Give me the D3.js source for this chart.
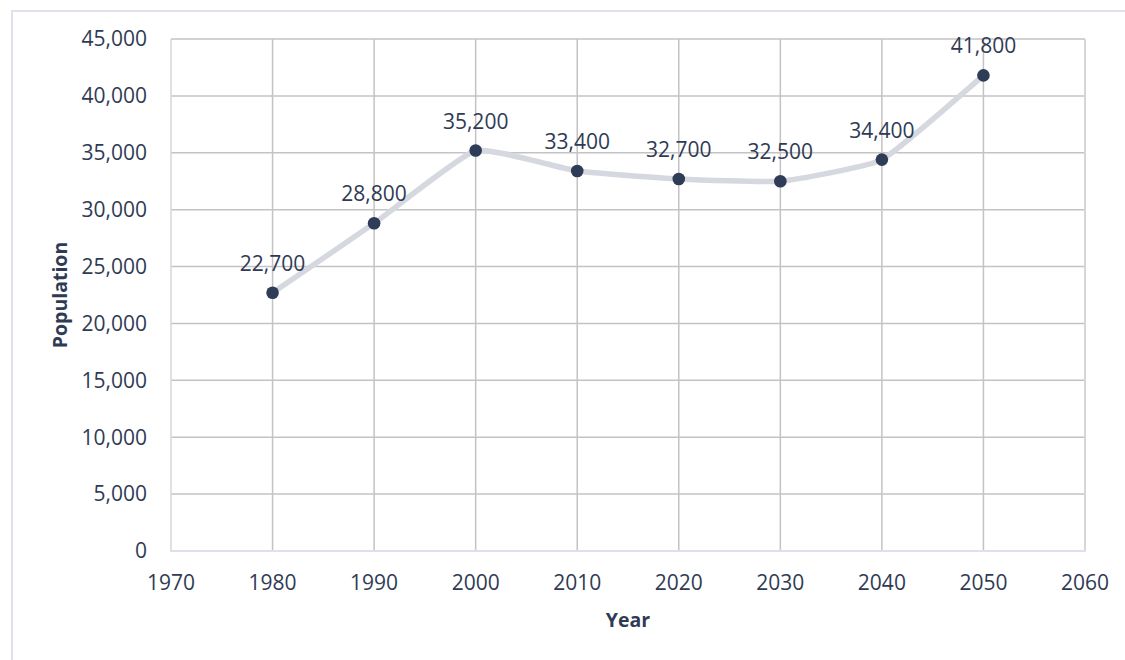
<!DOCTYPE html>
<html><head><meta charset="utf-8">
<script src="https://cdn.jsdelivr.net/npm/d3@7"></script>
<style>body{margin:0;background:#fff;} svg{display:block;}</style>
</head><body>
<svg id="c" width="1125" height="660"></svg>
<script>
const years = [1980, 1990, 2000, 2010, 2020, 2030, 2040, 2050];
const population = [22700, 28800, 35200, 33400, 32700, 32500, 34400, 41800];
const xTicks = [1970, 1980, 1990, 2000, 2010, 2020, 2030, 2040, 2050, 2060];
const yTicks = [0, 5000, 10000, 15000, 20000, 25000, 30000, 35000, 40000, 45000];

const svg = d3.select("#c");
const W = 1125, H = 660;
const m = {l: 171, r: 1085, t: 39, b: 551};
const textCol = "#2f3b55";
const font = "'Open Sans', sans-serif";

svg.append("path").attr("d", `M12,${H} L12,11 L${W},11`).attr("fill","none")
  .attr("stroke","#dfe2ec").attr("stroke-width",2);

const x = d3.scaleLinear().domain([1970, 2060]).range([m.l, m.r]);
const y = d3.scaleLinear().domain([0, 45000]).range([m.b, m.t]);

const g = svg.append("g");
g.selectAll("line.v").data(xTicks.slice(1, -1)).join("line")
  .attr("x1", d => x(d)).attr("x2", d => x(d)).attr("y1", m.t).attr("y2", m.b)
  .attr("stroke", "#c3c3c3").attr("stroke-width", 1.5);
g.selectAll("line.h").data(yTicks.slice(1)).join("line")
  .attr("x1", m.l).attr("x2", m.r).attr("y1", d => y(d)).attr("y2", d => y(d))
  .attr("stroke", "#c3c3c3").attr("stroke-width", 1.5);
g.append("line").attr("x1", m.l).attr("x2", m.l).attr("y1", m.t).attr("y2", m.b)
  .attr("stroke", "#d6d6d6").attr("stroke-width", 1.5);
g.append("line").attr("x1", m.r).attr("x2", m.r).attr("y1", m.t).attr("y2", m.b)
  .attr("stroke", "#d6d6d6").attr("stroke-width", 2);
g.append("line").attr("x1", m.l - 1).attr("x2", m.r + 1).attr("y1", m.b).attr("y2", m.b)
  .attr("stroke", "#dde1ea").attr("stroke-width", 2);

const fmt = d3.format(",");
const fs = "21px";

svg.append("g").selectAll("text").data(yTicks).join("text")
  .attr("x", 147).attr("y", d => y(d)).attr("dy", "0.35em")
  .attr("text-anchor", "end").attr("fill", textCol)
  .style("font-family", font).style("font-size", fs)
  .text(d => fmt(d));

svg.append("g").selectAll("text").data(xTicks).join("text")
  .attr("x", d => x(d)).attr("y", 590)
  .attr("text-anchor", "middle").attr("fill", textCol)
  .style("font-family", font).style("font-size", fs)
  .text(d => d);

svg.append("text").attr("x", (m.l + m.r) / 2).attr("y", 627)
  .attr("text-anchor", "middle").attr("fill", textCol)
  .style("font-family", font).style("font-size", "19.5px").style("font-weight", "bold")
  .text("Year");
svg.append("text").attr("transform", `translate(67,${(m.t + m.b) / 2}) rotate(-90)`)
  .attr("text-anchor", "middle").attr("fill", textCol)
  .style("font-family", font).style("font-size", "19.5px").style("font-weight", "bold")
  .text("Population");

const data = years.map((yr, i) => ({yr, v: population[i]}));

const line = d3.line().x(d => x(d.yr)).y(d => y(d.v)).curve(d3.curveCardinal.tension(0.6));
svg.append("path").datum(data).attr("d", line).attr("fill", "none")
  .attr("stroke", "#d5d8de").attr("stroke-width", 5.5).attr("stroke-linecap", "round");

svg.append("g").selectAll("circle").data(data).join("circle")
  .attr("cx", d => x(d.yr)).attr("cy", d => y(d.v)).attr("r", 6.3)
  .attr("fill", "#2e3c57");

svg.append("g").selectAll("text").data(data).join("text")
  .attr("x", d => x(d.yr)).attr("y", d => y(d.v) - 22)
  .attr("text-anchor", "middle").attr("fill", textCol)
  .style("font-family", font).style("font-size", fs)
  .text(d => fmt(d.v));
</script>
</body></html>
